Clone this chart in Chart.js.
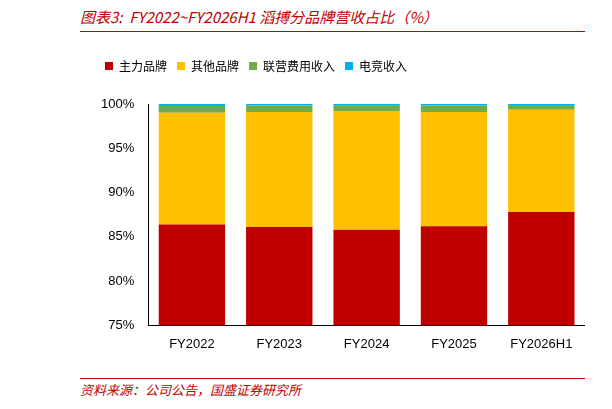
<!DOCTYPE html>
<html><head><meta charset="utf-8">
<script src="https://cdn.jsdelivr.net/npm/chart.js@4"></script>
<style>
body{margin:0;width:612px;height:409px;background:#fff;font-family:"Noto Sans CJK SC";position:relative;overflow:hidden}
#title{position:absolute;left:80px;top:6px;color:#c00000;font-style:italic;font-size:15px}
#tl{position:absolute;left:80px;top:31px;width:505px;border-top:1px solid #c00000}
#bl{position:absolute;left:80px;top:378px;width:505px;border-top:1px solid #c00000}
#src{position:absolute;left:80px;top:380px;color:#c00000;font-style:italic;font-size:13px}
#wrap{position:absolute;left:95px;top:50px;width:490px;height:305px}
</style></head><body>
<div id="title">图表3:&nbsp; FY2022~FY2026H1 滔搏分品牌营收占比（%）</div>
<div id="tl"></div>
<div id="wrap"><canvas id="c"></canvas></div>
<div id="bl"></div>
<div id="src">资料来源：公司公告，国盛证券研究所</div>
<script>
const categories = ["FY2022","FY2023","FY2024","FY2025","FY2026H1"];
const mainBrand = [86.4, 86.1, 85.8, 86.2, 87.8];
const otherBrand = [12.6, 13.0, 13.4, 12.9, 11.55];
const jointFee = [0.78, 0.73, 0.6, 0.73, 0.55];
const ecommerce = [0.22, 0.17, 0.2, 0.17, 0.1];
const legendGap = {
  id: 'legendGap',
  beforeInit(chart) {
    const fit = chart.legend.fit;
    chart.legend.fit = function () { fit.bind(chart.legend)(); this.height += 22; };
  }
};
new Chart(document.getElementById("c"), {
  type: 'bar',
  data: {
    labels: categories,
    datasets: [
      {label: "主力品牌", data: mainBrand, backgroundColor: "#c00000"},
      {label: "其他品牌", data: otherBrand, backgroundColor: "#ffc000"},
      {label: "联营费用收入", data: jointFee, backgroundColor: "#70ad47"},
      {label: "电竞收入", data: ecommerce, backgroundColor: "#00b0f0"}
    ]
  },
  options: {
    responsive: true, maintainAspectRatio: false, animation: false,
    datasets: {bar: {barPercentage: 0.76, categoryPercentage: 1}},
    layout: {padding: {left: 0, right: 0}},
    plugins: {
      legend: {align: 'start', labels: {boxWidth: 8, boxHeight: 8, color: '#000', font: {size: 12, family: "Noto Sans CJK SC"}, padding: 10}},
      tooltip: {enabled: false}
    },
    scales: {
      x: {stacked: true, grid: {display: false}, border: {color: '#000'}, ticks: {color: '#000', font: {size: 13}}},
      y: {stacked: true, min: 75, max: 100, grid: {display: false, drawTicks: true}, border: {color: '#000'},
          ticks: {stepSize: 5, color: '#000', font: {size: 13}, padding: 6, callback: v => v + '%'}}
    }
  },
  plugins: [legendGap]
});
</script>
</body></html>
